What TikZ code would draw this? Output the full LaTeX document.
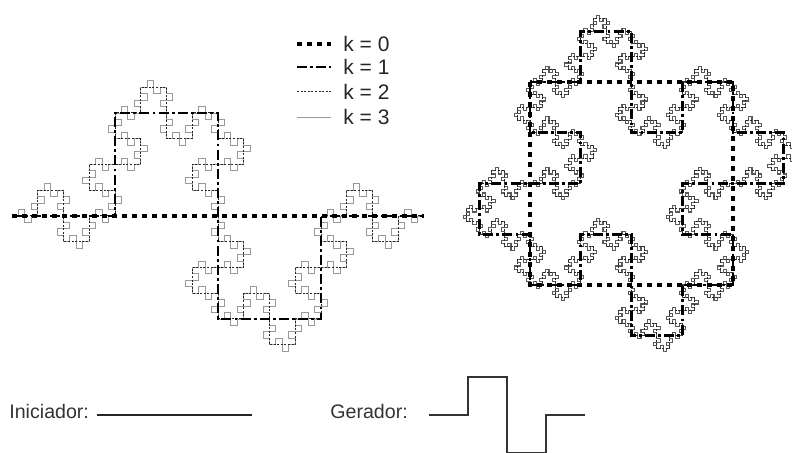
\documentclass[tikz,border=0pt]{standalone}
\usepackage{fontspec}
\setmainfont{Liberation Sans}
\usetikzlibrary{lindenmayersystems}

% 生成規則：F -> F+F-F-FF+F+F-F (角度90°)
\pgfdeclarelindenmayersystem{Minkowski}{\rule{F -> F+F-F-FF+F+F-F}}

\begin{document}
\begin{tikzpicture}[x=0.5pt,y=0.5pt,
  kzero/.style={line width=1.9pt,dash pattern=on 2.3pt off 2.7pt},
  kone/.style={line width=1.3pt,dash pattern=on 5pt off 1.6pt on 1.4pt off 1.6pt},
  ktwo/.style={line width=0.5pt,black!85,dash pattern=on 1pt off 0.8pt},
  kthree/.style={line width=0.45pt,black!40},
  kthreeisle/.style={kthree,black!65,line width=0.55pt},
  lab/.style={font=\fontsize{9.8}{11}\selectfont,text=black!80,inner sep=0pt},
  leglab/.style={font=\fontsize{10.5}{12}\selectfont,text=black!85,inner sep=0pt}]
  \useasboundingbox (0,0) rectangle (792,453);
  % 左：曲線(k=3から順に重ねる，k=0は直線)
  \foreach \k/\st/\sty in {3/3.21875pt/kthree,2/12.875pt/ktwo,1/51.5pt/kone}{
    \draw[\sty,shift={(12,237)},l-system={Minkowski,axiom=F,order=\k,step=\st,angle=90}] lindenmayer system;
  }
  \draw[kzero] (12,237) -- (424,237);
  % 右：正方形を初期図形とする島(細かいので少し濃くする)
  \foreach \k/\st/\sty in {3/1.5859375pt/kthreeisle,2/6.34375pt/ktwo,1/25.375pt/kone}{
    \draw[\sty,shift={(530,371)},l-system={Minkowski,axiom=F-F-F-F,order=\k,step=\st,angle=90}] lindenmayer system;
  }
  \draw[kzero] (530,371) rectangle (733,168);
  % 凡例
  \foreach \k/\sty/\yy in {0/kzero/409,1/kone/386,2/ktwo/361,3/kthree/336}{
    \draw[\sty] (297,\yy) -- (331,\yy);
    \node[leglab,anchor=west] (leg\k) at (343,\yy) {k = \k};
  }
  % 下：初期図形と生成元
  \node[lab,anchor=west] (ini) at (9,41) {Iniciador:};
  \draw[line width=1pt,black!85] (97,38) -- (252,38);
  \node[lab,anchor=west] (ger) at (330,41) {Gerador:};
  \draw[line width=1.1pt,black!80] (429,38) -- ++(39,0) -- ++(0,38) -- ++(39,0) -- ++(0,-76) -- ++(39,0) -- ++(0,38) -- ++(39,0);
\end{tikzpicture}
\end{document}
